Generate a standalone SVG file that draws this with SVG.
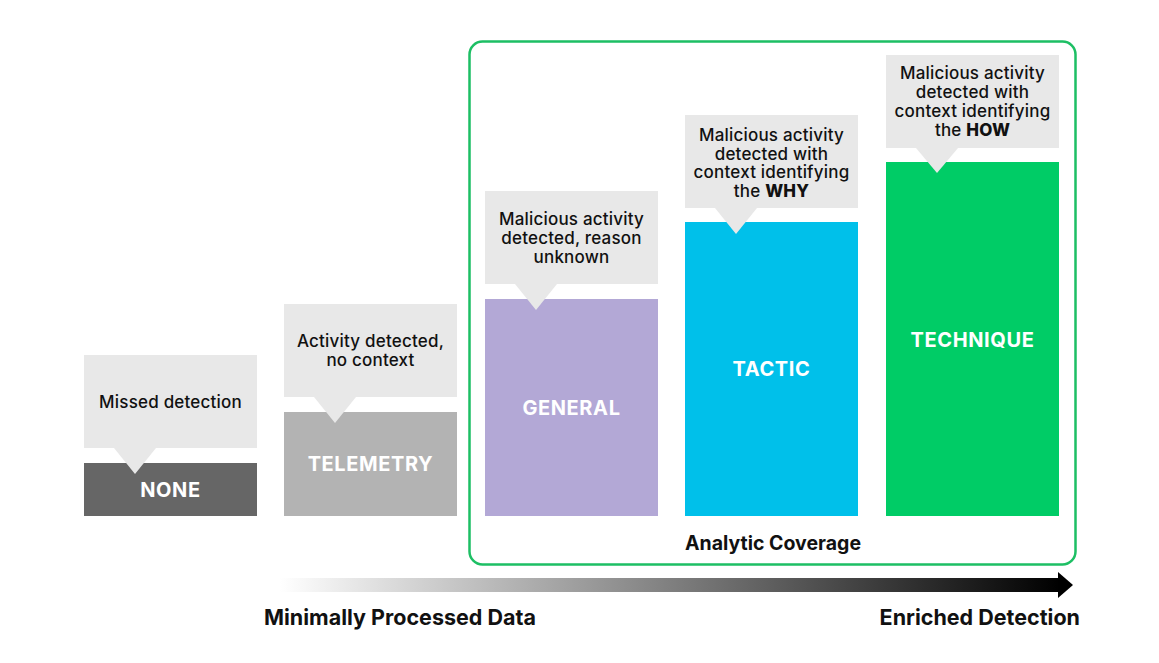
<svg xmlns="http://www.w3.org/2000/svg" width="1159" height="663" viewBox="0 0 1159 663">
<defs>
<linearGradient id="grad" x1="0" y1="0" x2="1" y2="0">
<stop offset="0" stop-color="#ffffff"/>
<stop offset="1" stop-color="#000000"/>
</linearGradient>
<style>
.callout{fill:#e8e8e8}
.ct{font-family:Inter,"Liberation Sans",sans-serif;font-size:17px;font-weight:500;fill:#111;text-anchor:middle;letter-spacing:0.2px}
.bt{font-family:Inter,"Liberation Sans",sans-serif;font-size:20px;font-weight:700;fill:#fff;text-anchor:middle;letter-spacing:0.6px}
.lab{font-family:Inter,"Liberation Sans",sans-serif;font-weight:700;fill:#111}
</style>
</defs>
<rect width="1159" height="663" fill="#fff"/>
<g id="coverage">
<rect x="469.5" y="41.5" width="606" height="523" rx="13" fill="none" stroke="#1dbf64" stroke-width="2.5"/>
<text class="lab" x="773" y="550" font-size="19.5" text-anchor="middle">Analytic Coverage</text>
</g>
<g id="none">
<rect x="84" y="463" width="173" height="53" fill="#666666"/>
<rect class="callout" x="84" y="355" width="173" height="93"/>
<polygon class="callout" points="114,448 156,448 135,474"/>
<text class="ct" x="170.5" y="408">Missed detection</text>
<text class="bt" x="170.5" y="497">NONE</text>
</g>
<g id="telemetry">
<rect x="284" y="412" width="173" height="104" fill="#b3b3b3"/>
<rect class="callout" x="284" y="304" width="173" height="93"/>
<polygon class="callout" points="314,397 356,397 335,423"/>
<text class="ct" x="370.5" y="347">Activity detected,</text>
<text class="ct" x="370.5" y="366">no context</text>
<text class="bt" x="370.5" y="471">TELEMETRY</text>
</g>
<g id="general">
<rect x="485" y="299" width="173" height="217" fill="#b3a8d6"/>
<rect class="callout" x="485" y="191" width="173" height="93"/>
<polygon class="callout" points="515,284 557,284 536,310"/>
<text class="ct" x="571.5" y="225">Malicious activity</text>
<text class="ct" x="571.5" y="244">detected, reason</text>
<text class="ct" x="571.5" y="263">unknown</text>
<text class="bt" x="571.5" y="415">GENERAL</text>
</g>
<g id="tactic">
<rect x="685" y="222" width="173" height="294" fill="#00c0ea"/>
<rect class="callout" x="685" y="115" width="173" height="93"/>
<polygon class="callout" points="715,208 757,208 736,234"/>
<text class="ct" x="771.5" y="141">Malicious activity</text>
<text class="ct" x="771.5" y="160">detected with</text>
<text class="ct" x="771.5" y="178">context identifying</text>
<text class="ct" x="771.5" y="197">the <tspan font-weight="800">WHY</tspan></text>
<text class="bt" x="771.5" y="376">TACTIC</text>
</g>
<g id="technique">
<rect x="886" y="162" width="173" height="354" fill="#00cc66"/>
<rect class="callout" x="886" y="55" width="173" height="93"/>
<polygon class="callout" points="916,148 958,148 937,173"/>
<text class="ct" x="972.5" y="79">Malicious activity</text>
<text class="ct" x="972.5" y="98">detected with</text>
<text class="ct" x="972.5" y="117">context identifying</text>
<text class="ct" x="972.5" y="136">the <tspan font-weight="800">HOW</tspan></text>
<text class="bt" x="972.5" y="347">TECHNIQUE</text>
</g>
<g id="connectors">
<rect x="280" y="578" width="780" height="14" fill="url(#grad)"/>
<polygon points="1058,572 1073,585 1058,598" fill="#000"/>
</g>
<g id="axis-labels">
<text class="lab" x="264" y="625" font-size="21.5">Minimally Processed Data</text>
<text class="lab" x="1080" y="625" font-size="21.5" text-anchor="end">Enriched Detection</text>
</g>
</svg>
